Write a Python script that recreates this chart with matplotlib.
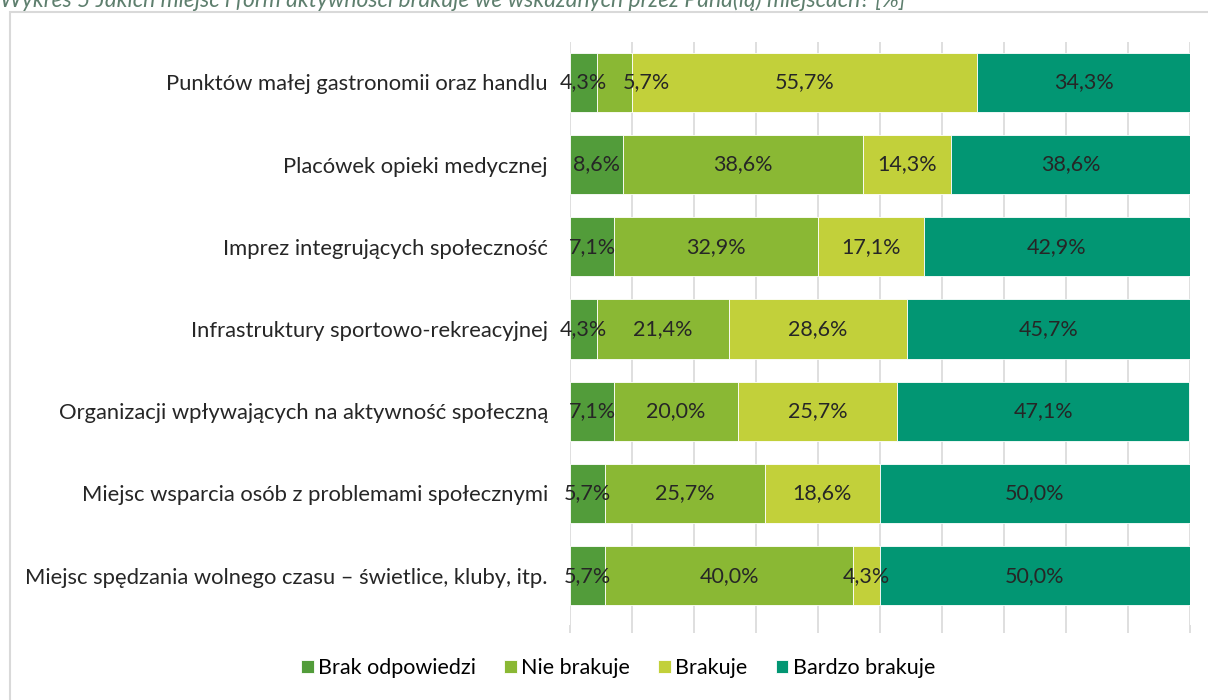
import matplotlib
matplotlib.use("Agg")
import matplotlib.pyplot as plt
from matplotlib.patches import Rectangle
import numpy as np

plt.rcParams['font.family'] = ['Lato', 'DejaVu Sans']
plt.rcParams['font.weight'] = 'normal'

# dane
categories = ['Punktów małej gastronomii oraz handlu',
              'Placówek opieki medycznej',
              'Imprez integrujących społeczność',
              'Infrastruktury sportowo-rekreacyjnej',
              'Organizacji wpływających na aktywność społeczną',
              'Miejsc wsparcia osób z problemami społecznymi',
              'Miejsc spędzania wolnego czasu – świetlice, kluby, itp.']
series = ['Brak odpowiedzi', 'Nie brakuje', 'Brakuje', 'Bardzo brakuje']
brak_odp = [4.3, 8.6, 7.1, 4.3, 7.1, 5.7, 5.7]
nie_brakuje = [5.7, 38.6, 32.9, 21.4, 20.0, 25.7, 40.0]
brakuje = [55.7, 14.3, 17.1, 28.6, 25.7, 18.6, 4.3]
bardzo_brakuje = [34.3, 38.6, 42.9, 45.7, 47.1, 50.0, 50.0]
colors = ['#529C3A', '#8AB834', '#C2D03A', '#029673']

fig = plt.figure(figsize=(12.08, 7), dpi=100)
# ramka wykresu
fig.patches.append(Rectangle((10 / 1208, -0.01), 1.0, 1 - 12 / 700 + 0.01,
                             transform=fig.transFigure, fill=False,
                             edgecolor='#d9d9d9', linewidth=1.5))
fig.text(0.0, 1 - 7 / 700,
         'Wykres 5 Jakich miejsc i form aktywności brakuje we wskazanych przez Pana(ią) miejscach? [%]',
         fontsize=16.5, style='italic', color='#5E7F6E', va='baseline', ha='left')

ax = fig.add_axes([570 / 1208, 75 / 700, 620 / 1208, 583 / 700])
y = np.arange(len(categories))
left = np.zeros(len(categories))
all_labels = []
for name, vals, c in zip(series, [brak_odp, nie_brakuje, brakuje, bardzo_brakuje], colors):
    bars = ax.barh(y, vals, 0.72, left=left, color=c, label=name, zorder=3,
                   edgecolor='white', linewidth=0.6)
    txt = ax.bar_label(bars, labels=[('%.1f%%' % v).replace('.', ',') for v in vals],
                       label_type='center', fontsize=15.5, color='#262626', zorder=4)
    all_labels.append(txt)
    left += np.array(vals)

# Excel przesuwa etykietę 5,7% w pierwszym wierszu, żeby nie nachodziła na 4,3%
all_labels[1][0].xyann = (23, 0)

ax.set_xlim(0, 100)
ax.set_ylim(6.6, -0.49)
ax.set_xticks(np.arange(0, 101, 10))
ax.set_xticklabels([])
ax.tick_params(axis='x', length=6, color='#d9d9d9', width=1.2)
ax.grid(axis='x', color='#d9d9d9', linewidth=1.2, zorder=0)
ax.set_yticks(y)
ax.set_yticklabels(categories, fontsize=15.8, color='#262626')
ax.tick_params(axis='y', length=0, pad=16)
for s in ax.spines.values():
    s.set_visible(False)

fig.legend(loc='center', bbox_to_anchor=(618 / 1208, 1 - 668 / 700), ncol=4, frameon=False,
           fontsize=15.5, handlelength=0.6, handleheight=0.6, handletextpad=0.2,
           columnspacing=1.3)

plt.savefig('out.png', dpi=100)
